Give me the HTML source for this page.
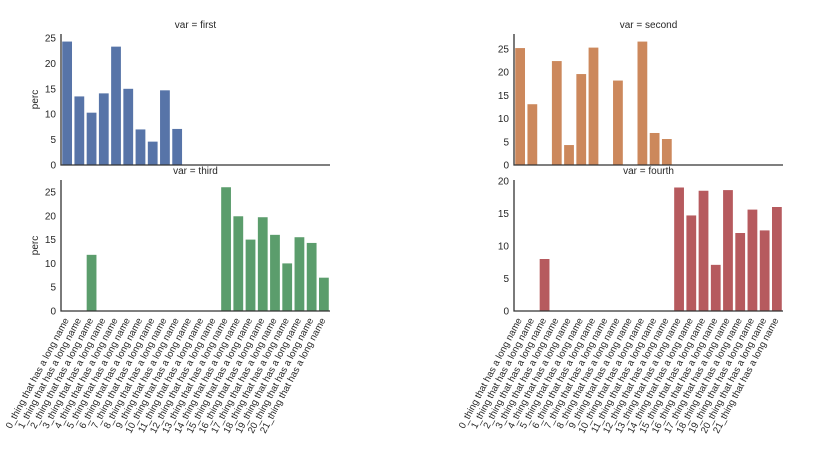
<!DOCTYPE html>
<html><head><meta charset="utf-8"><style>html,body{margin:0;padding:0;background:#fff}</style></head>
<body>
<svg id="s" width="817" height="454" xmlns="http://www.w3.org/2000/svg" font-family="Liberation Sans, sans-serif" font-size="10" fill="#262626"></svg>
<script>
const s=document.getElementById('s');let h='';
const panels=[
 {x0:61,base:165,top:34,ppu:5.08,ticks:[0,5,10,15,20,25],col:'#5774a8',title:'var = first',ylab:true,
  vals:{0:24.3,1:13.5,2:10.3,3:14.1,4:23.3,5:15,6:7,7:4.6,8:14.7,9:7.1}},
 {x0:514,base:165,top:34,ppu:4.64,ticks:[0,5,10,15,20,25],col:'#cc885c',title:'var = second',ylab:false,
  vals:{0:25.2,1:13.1,3:22.4,4:4.3,5:19.6,6:25.3,8:18.2,10:26.6,11:6.9,12:5.6}},
 {x0:61,base:311,top:180,ppu:4.76,ticks:[0,5,10,15,20,25],col:'#5b9d6c',title:'var = third',ylab:true,xl:true,
  vals:{2:11.8,13:26,14:19.9,15:15,16:19.7,17:16,18:10,19:15.5,20:14.3,21:7}},
 {x0:514,base:311,top:180,ppu:6.5,ticks:[0,5,10,15,20],col:'#b65a5e',title:'var = fourth',ylab:false,xl:true,
  vals:{2:8,13:19,14:14.7,15:18.5,16:7.1,17:18.6,18:12,19:15.6,20:12.4,21:16}}
];
const W=269,step=W/22;
for(const p of panels){
  for(const k in p.vals){const v=p.vals[k];const cx=p.x0+step*(+k+0.5);const hgt=v*p.ppu;
    h+=`<rect x="${cx-step*0.4}" y="${p.base-hgt}" width="${step*0.8}" height="${hgt}" fill="${p.col}"/>`;}
  h+=`<path d="M${p.x0} ${p.top}V${p.base}H${p.x0+W}" fill="none" stroke="#333" stroke-width="1.3"/>`;
  for(const t of p.ticks){h+=`<text x="${p.x0-5}" y="${p.base-t*p.ppu+3.5}" text-anchor="end">${t}</text>`;}
  h+=`<text x="${p.x0+W/2}" y="${p.top-6}" text-anchor="middle">${p.title}</text>`;
  if(p.ylab)h+=`<text transform="translate(38 ${(p.top+p.base)/2}) rotate(-90)" text-anchor="middle">perc</text>`;
  if(p.xl){for(let i=0;i<22;i++){const cx=p.x0+step*(i+0.5)+2;
    h+=`<text transform="translate(${cx} ${p.base+9}) rotate(-62)" text-anchor="end" font-size="9.6">${i}_thing that has a long name</text>`;}}
}
s.innerHTML=h;
</script>
</body></html>
